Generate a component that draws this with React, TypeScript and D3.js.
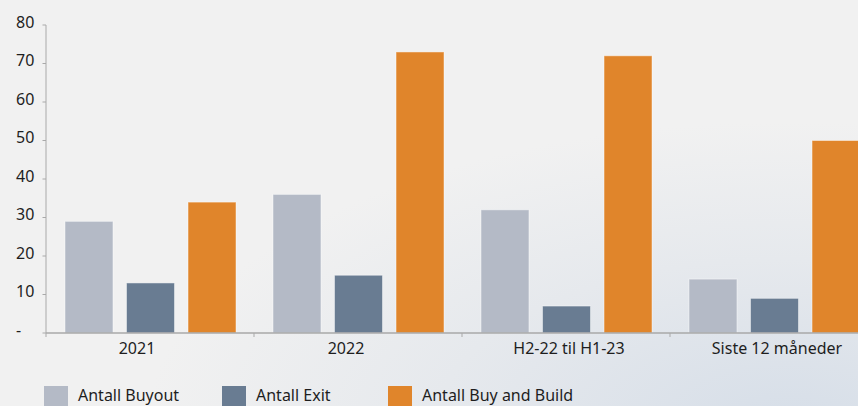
import React from "react";
import * as d3 from "d3";

const categories = ["2021", "2022", "H2-22 til H1-23", "Siste 12 måneder"];
const seriesNames = ["Antall Buyout", "Antall Exit", "Antall Buy and Build"];
const buyout = [29, 36, 32, 14];
const exit = [13, 15, 7, 9];
const buyAndBuild = [34, 73, 72, 50];
const yTicks = [0, 10, 20, 30, 40, 50, 60, 70, 80];
const colors = ["#b4bac6", "#697c92", "#e0852b"];

const W = 858;
const H = 406;
const FONT = "'Noto Sans', 'Open Sans', sans-serif";

export default function App() {
  const series = [buyout, exit, buyAndBuild];
  const left = 46;
  const bandW = 208;
  const x = d3
    .scaleBand<string>()
    .domain(categories)
    .range([left, left + bandW * categories.length])
    .padding(0);
  const xs = d3
    .scaleBand<string>()
    .domain(seriesNames)
    .range([19, 190])
    .paddingInner(0.22)
    .paddingOuter(0);
  const y = d3.scaleLinear().domain([0, 80]).range([333, 25]);
  const y0 = y(0);
  // label nudges as seen in the reference layout
  const labelNudge = [-13, -12, 3, 3];
  const legendX = [44, 222, 388];

  return (
    <svg
      width={W}
      height={H}
      style={{ position: "absolute", left: 0, top: 0, display: "block" }}
    >
      <defs>
        <radialGradient id="bg" cx="0.92" cy="1.05" r="0.75">
          <stop offset="0" stopColor="#d6dee8" />
          <stop offset="0.55" stopColor="#e6e9ed" />
          <stop offset="1" stopColor="#f1f1f1" />
        </radialGradient>
      </defs>
      <rect x={0} y={0} width={W} height={H} fill="#f1f1f1" />
      <rect x={0} y={0} width={W} height={H} fill="url(#bg)" />

      {/* bars */}
      {categories.map((c, i) => (
        <g key={c} transform={`translate(${x(c)},0)`}>
          {series.map((vals, s) => (
            <rect
              key={s}
              x={xs(seriesNames[s])}
              y={y(vals[i])}
              width={xs.bandwidth()}
              height={y0 - y(vals[i])}
              fill={colors[s]}
              stroke="rgba(255,255,255,0.45)"
              strokeWidth={1}
            />
          ))}
        </g>
      ))}

      {/* y axis */}
      <line x1={left} x2={left} y1={y(80)} y2={y0} stroke="#a9a9a9" strokeWidth={1} />
      {yTicks.map((t) => (
        <g key={t}>
          <line x1={left - 3.5} x2={left} y1={y(t)} y2={y(t)} stroke="#a9a9a9" />
          <text
            x={16}
            y={y(t) + 2.5}
            fontFamily={FONT}
            fontSize={16}
            fill="#1e1e1e"
          >
            {t === 0 ? "-" : String(t)}
          </text>
        </g>
      ))}

      {/* x axis */}
      <line x1={left} x2={W} y1={y0} y2={y0} stroke="#a9a9a9" strokeWidth={1.5} />
      {categories.map((c) => (
        <line
          key={"t" + c}
          x1={x(c)}
          x2={x(c)}
          y1={y0}
          y2={y0 + 4}
          stroke="#a9a9a9"
        />
      ))}
      {categories.map((c, i) => (
        <text
          key={"l" + c}
          x={(x(c) as number) + x.bandwidth() / 2 + labelNudge[i]}
          y={354}
          textAnchor="middle"
          fontFamily={FONT}
          fontSize={16}
          fill="#1e1e1e"
        >
          {c}
        </text>
      ))}

      {/* legend */}
      {seriesNames.map((n, s) => (
        <g key={n}>
          <rect x={legendX[s]} y={386} width={24} height={24} fill={colors[s]} />
          <text
            x={legendX[s] + 34}
            y={401}
            fontFamily={FONT}
            fontSize={16}
            fill="#1e1e1e"
          >
            {n}
          </text>
        </g>
      ))}
    </svg>
  );
}
